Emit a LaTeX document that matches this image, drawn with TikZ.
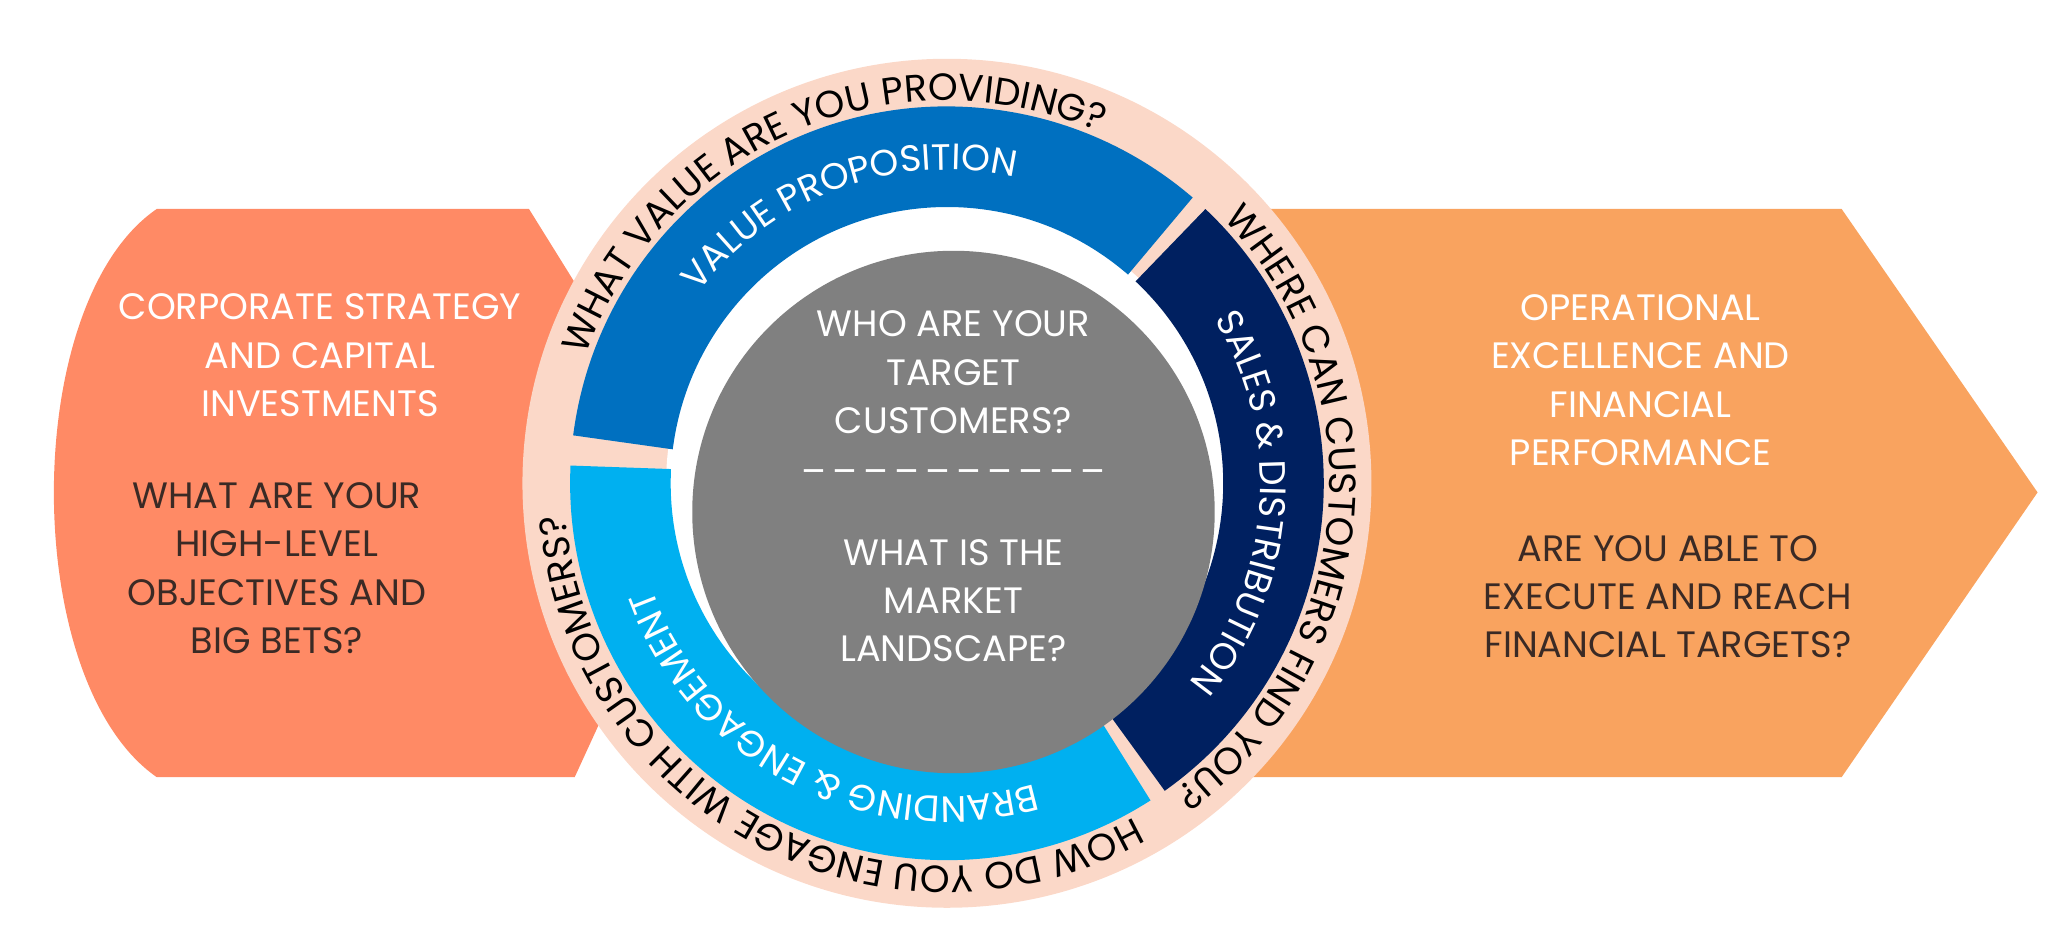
\documentclass[tikz,border=0pt]{standalone}
\usepackage{fontspec}
\setmainfont{Poppins}
\usetikzlibrary{decorations.text}
\definecolor{coral}{HTML}{FF8A65}
\definecolor{sand}{HTML}{F9A35F}
\definecolor{peach}{HTML}{FBD8C8}
\definecolor{vpblue}{HTML}{0070C0}
\definecolor{navy}{HTML}{002060}
\definecolor{sky}{HTML}{00B0F0}
\definecolor{ink}{HTML}{3A2A25}
\tikzset{
  band/.style={draw=white, line width=1.4mm},
  sidetext/.style={align=center, font=\fontsize{16}{21}\selectfont},
  midtext/.style={align=center, text=white, font=\fontsize{16}{21}\selectfont},
  ringtext/.style={decorate, decoration={text along path, text align=center, text color=white}},
  asktext/.style={decorate, decoration={text along path, text align=center, text color=black}}
}
\begin{document}
\begin{tikzpicture}[x=0.2mm,y=0.2mm]
    \useasboundingbox (0,0) rectangle (1568,722);
    \coordinate (r) at (725,352);
    \coordinate (c) at (730,330);

    % side arrows
    \fill[coral] (120,127) .. controls (15,200) and (15,490) .. (120,562) -- (405,562) -- (540,345) -- (440,127) -- cycle;
    \fill[sand] (900,127) -- (1410,127) -- (1560,345) -- (1410,562) -- (900,562) -- cycle;

    % circle and ring
    \fill[peach] (r) circle[radius=65mm];
    \fill[white] (r) circle[radius=43mm];
    \fill[band, vpblue] (r) ++(172:57mm) arc[start angle=172, end angle=50, radius=57mm] -- ++(-130:14mm) arc[start angle=50, end angle=172, radius=43mm] -- cycle;
    \fill[band, navy] (r) ++(46:57mm) arc[start angle=46, end angle=-54, radius=57mm] -- ++(126:14mm) arc[start angle=-54, end angle=46, radius=43mm] -- cycle;
    \fill[band, sky] (r) ++(-58:57mm) arc[start angle=-58, end angle=-182, radius=57mm] -- ++(-2:14mm) arc[start angle=-182, end angle=-58, radius=43mm] -- cycle;
    \fill[gray] (c) circle[radius=40mm];

    % labels in the ring
    \path[ringtext, decoration={text={|\fontsize{16}{16}\selectfont|VALUE PROPOSITION}}] (r) ++(158:48mm) arc[start angle=158, end angle=62, radius=48mm];
    \path[ringtext, decoration={text={|\fontsize{16}{16}\selectfont|SALES {\&} DISTRIBUTION}}] (r) ++(42:48mm) arc[start angle=42, end angle=-50, radius=48mm];
    \path[ringtext, decoration={text={|\fontsize{16}{16}\selectfont|BRANDING {\&} ENGAGEMENT}}] (r) ++(-63:48mm) arc[start angle=-63, end angle=-171, radius=48mm];

    % questions round the ring
    \path[asktext, decoration={text={|\fontsize{16.5}{17}\selectfont|WHAT VALUE ARE YOU PROVIDING?}}] (r) ++(172:58.6mm) arc[start angle=172, end angle=55, radius=58.6mm];
    \path[asktext, decoration={text={|\fontsize{16.5}{17}\selectfont|WHERE CAN CUSTOMERS FIND YOU?}}] (r) ++(52:58.6mm) arc[start angle=52, end angle=-62, radius=58.6mm];
    \path[asktext, decoration={text={|\fontsize{16.5}{17}\selectfont|HOW DO YOU ENGAGE WITH CUSTOMERS?}}] (r) ++(-52:58.6mm) arc[start angle=-52, end angle=-184, radius=58.6mm];

    % centre
    \node[midtext] (target) at (730,437) {WHO ARE YOUR\\TARGET\\CUSTOMERS?};
    \node[midtext] (dashes) at (730,357) {–\,–\,–\,–\,–\,–\,–\,–\,–\,–};
    \node[midtext] (market) at (730,262) {WHAT IS THE\\MARKET\\LANDSCAPE?};

    % left arrow
    \node[sidetext, text=white] (strategy) at (245,450) {CORPORATE STRATEGY\\AND CAPITAL\\INVESTMENTS};
    \node[sidetext, text=ink] (objectives) at (212,287) {WHAT ARE YOUR\\HIGH-LEVEL\\OBJECTIVES AND\\BIG BETS?};

    % right arrow
    \node[sidetext, text=white] (operations) at (1256,431) {OPERATIONAL\\EXCELLENCE AND\\FINANCIAL\\PERFORMANCE};
    \node[sidetext, text=ink] (targets) at (1277,265) {ARE YOU ABLE TO\\EXECUTE AND REACH\\FINANCIAL TARGETS?};
\end{tikzpicture}
\end{document}
